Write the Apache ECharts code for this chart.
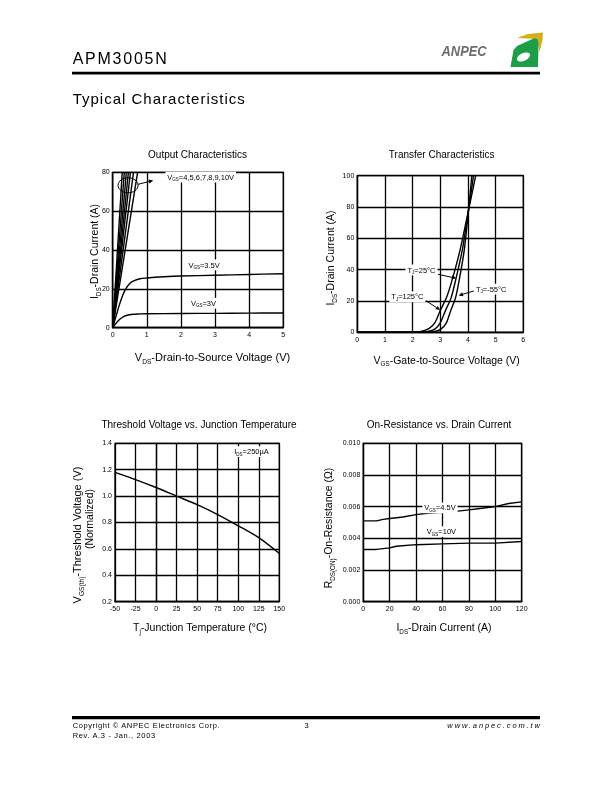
<!DOCTYPE html>
<html><head><meta charset="utf-8">
<script src="https://cdn.jsdelivr.net/npm/echarts@6/dist/echarts.min.js"></script>
<style>
html,body{margin:0;padding:0;background:#fff;}
#chart{position:absolute;left:0;top:0;width:612px;height:792px;}
.t{position:absolute;font-family:'Liberation Sans',Arial,Helvetica,sans-serif;color:#000;white-space:nowrap;}
</style></head><body>
<div id="chart"></div>
<div class="t" style="left:72.7px;top:50.8px;font-size:16px;line-height:16px;letter-spacing:1.75px;">APM3005N</div>
<div class="t" style="left:72.7px;top:90.6px;font-size:15px;line-height:15px;letter-spacing:1px;">Typical Characteristics</div>
<div class="t" style="left:72.7px;top:721.2px;font-size:7.5px;line-height:9px;letter-spacing:0.6px;">Copyright © ANPEC Electronics Corp.</div>
<div class="t" style="left:72.7px;top:730.9px;font-size:7.5px;line-height:9px;letter-spacing:0.65px;">Rev. A.3 - Jan., 2003</div>
<div class="t" style="left:296.7px;width:20px;text-align:center;top:721.2px;font-size:7.5px;line-height:9px;">3</div>
<div class="t" style="right:70.1px;text-align:right;top:721.2px;font-size:7.5px;line-height:9px;letter-spacing:1.9px;font-style:italic;">www.anpec.com.tw</div>
<script>
const F = "'Liberation Sans', Arial, Helvetica, sans-serif";

// ---------- Output Characteristics ----------
const outXTicks = [0, 1, 2, 3, 4, 5];
const outYTicks = [0, 20, 40, 60, 80];
const outSteepNames = ['VGS=4V', 'VGS=5V', 'VGS=6V', 'VGS=7V', 'VGS=8V', 'VGS=9V', 'VGS=10V'];
const outSteepVdsAt80A = [0.73, 0.61, 0.52, 0.46, 0.40, 0.34, 0.28];
const outSteepId = [0, 80];
const out35Vds = [0, 0.1, 0.2, 0.3, 0.4, 0.5, 0.6, 0.8, 1.0, 1.5, 2, 3, 4, 5];
const out35Id  = [0, 6, 12, 17, 20.5, 22.8, 24, 25.2, 25.6, 26.2, 26.6, 27, 27.4, 27.8];
const out3Vds  = [0, 0.1, 0.2, 0.3, 0.4, 0.6, 0.8, 1, 2, 3, 4, 5];
const out3Id   = [0, 2.3, 4.2, 5.5, 6.3, 6.9, 7.1, 7.2, 7.3, 7.4, 7.5, 7.6];

// ---------- Transfer Characteristics ----------
const trXTicks = [0, 1, 2, 3, 4, 5, 6];
const trYTicks = [0, 20, 40, 60, 80, 100];
const tr125Vgs = [0, 2.0, 2.3, 2.6, 2.8, 3.0, 3.22, 3.42, 3.72, 4.02, 4.28];
const tr125Id  = [0, 0, 0.5, 2.5, 6, 14, 22, 33, 53, 78, 100];
const tr25Vgs  = [0, 2.25, 2.55, 2.8, 3.0, 3.19, 3.39, 3.55, 3.8, 4.02, 4.2];
const tr25Id   = [0, 0, 0.5, 2, 6, 14, 22, 33, 53, 78, 100];
const trM55Vgs = [0, 2.5, 2.8, 3.02, 3.22, 3.38, 3.55, 3.68, 3.87, 4.02, 4.14];
const trM55Id  = [0, 0, 0.5, 2, 6, 14, 22, 33, 53, 78, 100];

// ---------- Threshold Voltage vs. Junction Temperature ----------
const thXTicks = [-50, -25, 0, 25, 50, 75, 100, 125, 150];
const thYTicks = [0.2, 0.4, 0.6, 0.8, 1.0, 1.2, 1.4];
const thTj  = [-50, -25, 0, 25, 50, 75, 100, 125, 150];
const thVth = [1.18, 1.125, 1.065, 1.0, 0.935, 0.86, 0.775, 0.685, 0.565];

// ---------- On-Resistance vs. Drain Current ----------
const onXTicks = [0, 20, 40, 60, 80, 100, 120];
const onYTicks = [0.000, 0.002, 0.004, 0.006, 0.008, 0.010];
const on45Id  = [0, 10, 15, 20, 30, 40, 50, 60, 70, 80, 90, 100, 110, 120];
const on45R   = [0.0051, 0.0051, 0.0052, 0.00525, 0.00535, 0.0055, 0.0056, 0.00565, 0.0057, 0.0058, 0.0059, 0.0060, 0.0062, 0.0063];
const on10Id  = [0, 10, 20, 25, 40, 60, 80, 100, 120];
const on10R   = [0.0033, 0.0033, 0.0034, 0.0035, 0.0036, 0.00365, 0.0037, 0.0037, 0.0038];

const zip = (xs, ys) => xs.map((x, i) => [x, ys[i]]);

const chart = echarts.init(document.getElementById('chart'), null, {renderer: 'canvas'});

const grids = [
  {left: 112.7, top: 172.3, width: 170.6, height: 155.4},
  {left: 357.3, top: 175.7, width: 166, height: 156.6},
  {left: 115, top: 443.3, width: 164.3, height: 158.4},
  {left: 363.3, top: 443.3, width: 158.4, height: 158.4}
].map(g => Object.assign(g, {show: true, borderColor: '#000', borderWidth: 1.3, containLabel: false, outerBoundsMode: 'none'}));

function axis(k, ticks, isX, fmt) {
  return {
    type: 'value', gridIndex: k,
    min: ticks[0], max: ticks[ticks.length - 1], interval: ticks[1] - ticks[0],
    axisLine: {show: true, lineStyle: {color: '#000', width: 1.3}},
    axisTick: {show: false},
    splitLine: {show: true, lineStyle: {color: '#000', width: 1.3}},
    axisLabel: {fontSize: 7, color: '#000', fontFamily: F, margin: isX ? 4 : 3,
      showMinLabel: true, showMaxLabel: true, formatter: fmt}
  };
}

const ls = {color: '#000', width: 1.4};
function line(k, name, data, smooth) {
  return {type: 'line', name, xAxisIndex: k, yAxisIndex: k, data, showSymbol: false, symbol: 'none',
    lineStyle: ls, itemStyle: {color: '#000'}, smooth: smooth || false, animation: false, silent: true};
}

const series = [];
outSteepNames.forEach((n, i) => series.push(line(0, n, zip([0, outSteepVdsAt80A[i]], outSteepId))));
series.push(line(0, 'VGS=3.5V', zip(out35Vds, out35Id), 0.35));
series.push(line(0, 'VGS=3V', zip(out3Vds, out3Id), 0.35));
series.push(line(1, 'TJ=125°C', zip(tr125Vgs, tr125Id), 0.25));
series.push(line(1, 'TJ=25°C', zip(tr25Vgs, tr25Id), 0.25));
series.push(line(1, 'TJ=-55°C', zip(trM55Vgs, trM55Id), 0.25));
series.push(line(2, 'IDS=250µA', zip(thTj, thVth), 0.3));
series.push(line(3, 'VGS=4.5V', zip(on45Id, on45R)));
series.push(line(3, 'VGS=10V', zip(on10Id, on10R)));

chart.setOption({
  animation: false,
  backgroundColor: '#fff',
  grid: grids,
  xAxis: [axis(0, outXTicks, true), axis(1, trXTicks, true), axis(2, thXTicks, true), axis(3, onXTicks, true)],
  yAxis: [axis(0, outYTicks, false), axis(1, trYTicks, false),
          axis(2, thYTicks, false, v => v.toFixed(1)), axis(3, onYTicks, false, v => v.toFixed(3))],
  series
});

// ---------- text helpers ----------
function rich(size) {
  return {
    m: {fontSize: size, fontFamily: F, fill: '#000', lineHeight: size * 1.3},
    s: {fontSize: size * 0.6, fontFamily: F, fill: '#000', lineHeight: size * 0.55, verticalAlign: 'bottom'}
  };
}
function rtext(parts) { return parts.map(p => '{' + (p[1] ? 's' : 'm') + '|' + p[0] + '}').join(''); }
function label(x, y, parts, size, opts) {
  opts = opts || {};
  return {type: 'text', x, y, z: 100, rotation: opts.rot || 0,
    style: Object.assign({text: rtext(parts), rich: rich(size), align: 'center', verticalAlign: 'middle', fill: '#000'},
      opts.bg ? {backgroundColor: '#fff', padding: [1, 2, 0, 2]} : {})};
}
const P = (k, pt) => chart.convertToPixel({xAxisIndex: k, yAxisIndex: k}, pt);
function arrow(p0, p1) {
  const size = 4.5;
  const dx = p1[0] - p0[0], dy = p1[1] - p0[1], L = Math.hypot(dx, dy), ux = dx / L, uy = dy / L;
  const b = [p1[0] - ux * size, p1[1] - uy * size], nx = -uy, ny = ux, w = size * 0.45;
  return [
    {type: 'line', z: 100, shape: {x1: p0[0], y1: p0[1], x2: b[0], y2: b[1]}, style: {stroke: '#000', lineWidth: 1}},
    {type: 'polygon', z: 100, shape: {points: [p1, [b[0] + nx * w, b[1] + ny * w], [b[0] - nx * w, b[1] - ny * w]]}, style: {fill: '#000'}}
  ];
}
function annot(k, pt, parts) { const p = P(k, pt); return label(p[0], p[1], parts, 7.5, {bg: true}); }

const g = [];
// header / footer rules
g.push({type: 'rect', shape: {x: 72, y: 71.7, width: 468, height: 2.7}, style: {fill: '#000'}});
g.push({type: 'rect', shape: {x: 72, y: 716, width: 468, height: 3.2}, style: {fill: '#000'}});
// logo
g.push({type: 'text', x: 441.5, y: 51.8, scaleX: 0.86, style: {text: 'ANPEC', font: 'italic bold 15px ' + F, fill: '#6e6e6e', align: 'left', verticalAlign: 'middle'}});
g.push({type: 'polygon', shape: {points: [[517, 38], [528, 34], [543, 32.5], [542.5, 40], [539.5, 52], [537, 39]]}, style: {fill: '#d4ae1c'}});
g.push({type: 'polygon', shape: {points: [[510.5, 67], [513.5, 50], [517, 46], [534, 38.2], [537.5, 39], [538.5, 44], [538, 67]]}, style: {fill: '#1c9e48'}});
g.push({type: 'ellipse', shape: {cx: 523.5, cy: 57, rx: 7, ry: 3.8}, rotation: 0.45, originX: 523.5, originY: 57, style: {fill: '#fff'}});

// titles
const titleFont = '10px ' + F;
[[197.5, 155, 'Output Characteristics'], [441.7, 155, 'Transfer Characteristics'],
 [199, 425, 'Threshold Voltage vs. Junction Temperature'], [439, 425, 'On-Resistance vs. Drain Current']]
 .forEach(t => g.push({type: 'text', x: t[0], y: t[1], style: {text: t[2], font: titleFont, fill: '#000', align: 'center', verticalAlign: 'middle'}}));

// axis names
const AN = 10.5, R90 = Math.PI / 2;
g.push(label(95, 251.5, [['I'], ['DS', 1], ['-Drain Current (A)']], AN, {rot: R90}));
g.push(label(212.5, 358.3, [['V'], ['DS', 1], ['-Drain-to-Source Voltage (V)']], 11));
g.push(label(331, 258, [['I'], ['DS', 1], ['-Drain Current (A)']], AN, {rot: R90}));
g.push(label(446.7, 360.7, [['V'], ['GS', 1], ['-Gate-to-Source Voltage (V)']], AN));
g.push(label(78.3, 535, [['V'], ['GS(th)', 1], ['-Threshold Voltage (V)']], 11, {rot: R90}));
g.push(label(90.5, 519, [['(Normalized)']], AN, {rot: R90}));
g.push(label(200, 628.3, [['T'], ['j', 1], ['-Junction Temperature (°C)']], AN));
g.push(label(329, 528, [['R'], ['DS(ON)', 1], ['-On-Resistance (Ω)']], AN, {rot: R90}));
g.push(label(444, 628.3, [['I'], ['DS', 1], ['-Drain Current (A)']], AN));

// Output chart annotations
const ec = P(0, [0.45, 73.3]);
g.push({type: 'ellipse', z: 100, shape: {cx: ec[0], cy: ec[1], rx: 10, ry: 7.5}, style: {fill: 'none', stroke: '#000', lineWidth: 1}});
g.push(...arrow([ec[0] + 10, ec[1] - 1], P(0, [1.19, 75.8])));
g.push(annot(0, [2.58, 77.5], [['V'], ['GS', 1], ['=4,5,6,7,8,9,10V']]));
g.push(annot(0, [2.68, 32.3], [['V'], ['GS', 1], ['=3.5V']]));
g.push(annot(0, [2.66, 12.6], [['V'], ['GS', 1], ['=3V']]));

// Transfer chart annotations
g.push(...arrow(P(1, [2.92, 37]), P(1, [3.58, 34.5])));
g.push(...arrow(P(1, [2.48, 20.2]), P(1, [3.0, 14.2])));
g.push(...arrow(P(1, [4.21, 26.4]), P(1, [3.66, 23.5])));
g.push(annot(1, [2.32, 39.8], [['T'], ['J', 1], ['=25°C']]));
g.push(annot(1, [1.81, 22.7], [['T'], ['J', 1], ['=125°C']]));
g.push(annot(1, [4.84, 27.5], [['T'], ['J', 1], ['=-55°C']]));

// Threshold annotation
g.push(annot(2, [116.2, 1.336], [['I'], ['DS', 1], ['=250µA']]));

// On-resistance annotations
g.push(annot(3, [58.1, 0.00592], [['V'], ['GS', 1], ['=4.5V']]));
g.push(annot(3, [59.2, 0.00442], [['V'], ['GS', 1], ['=10V']]));

chart.setOption({graphic: {elements: g}});
</script>
</body></html>
